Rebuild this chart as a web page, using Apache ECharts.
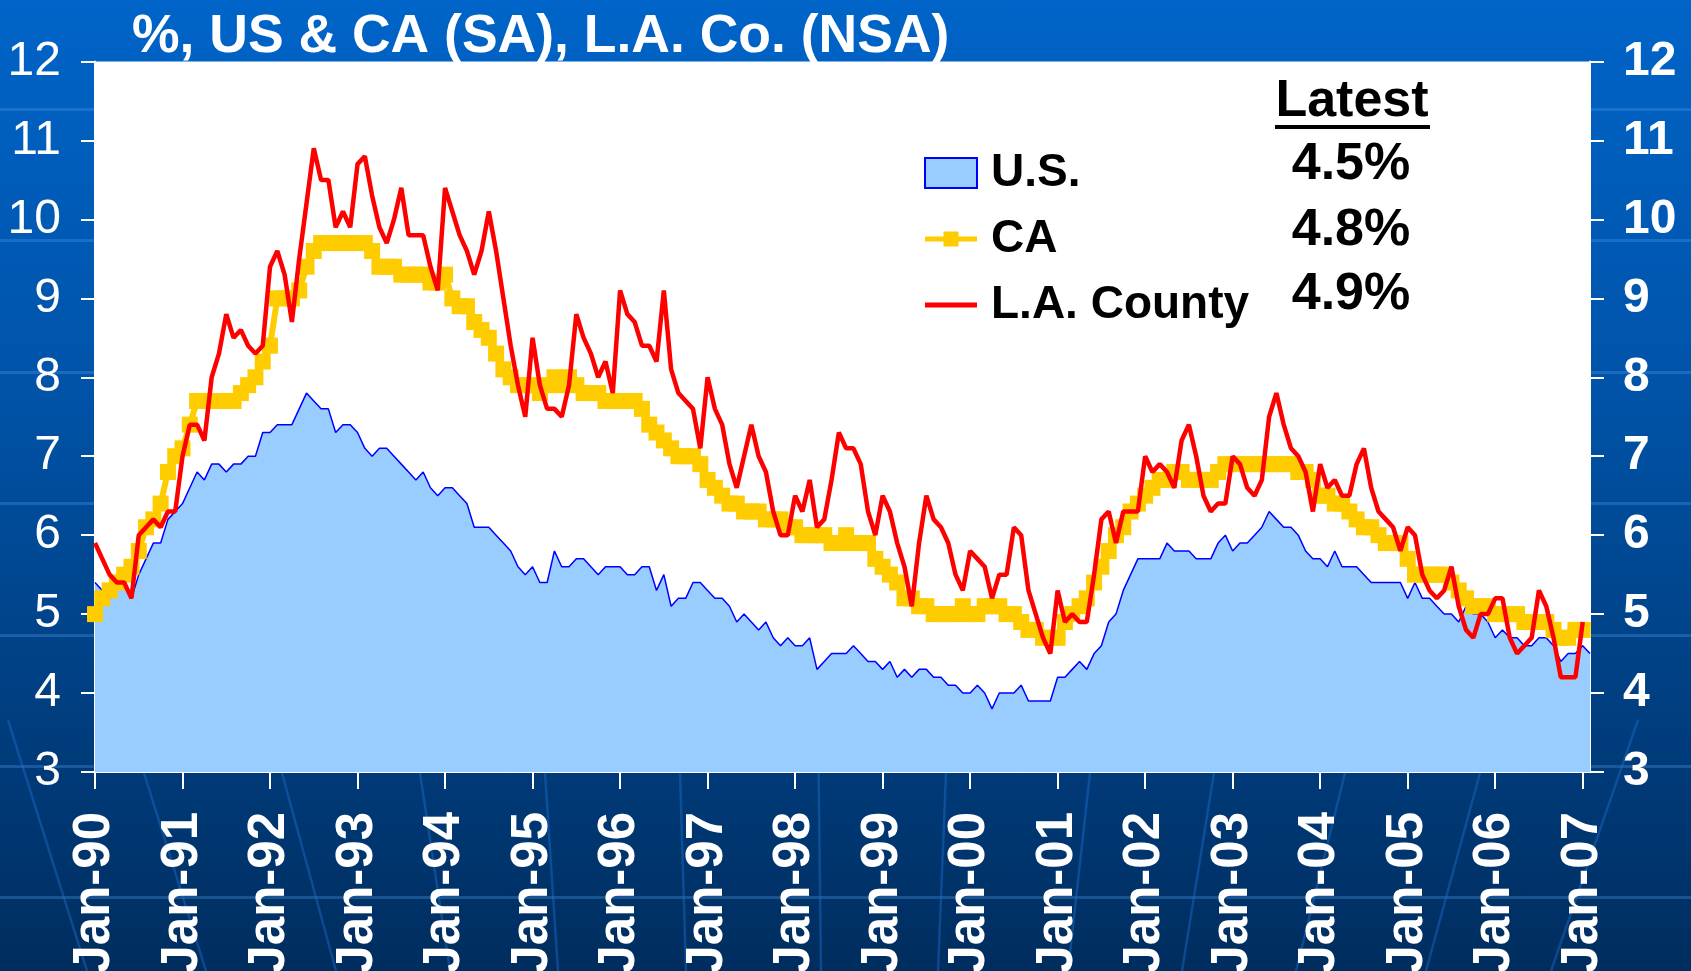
<!DOCTYPE html>
<html>
<head>
<meta charset="utf-8">
<title>Unemployment rate: U.S., CA, L.A. County</title>
<script src="https://cdn.jsdelivr.net/npm/echarts@6/dist/echarts.min.js"></script>
<style>
  html, body { margin: 0; padding: 0; }
  body {
    width: 1691px;
    height: 971px;
    overflow: hidden;
    background:
      url("data:image/svg+xml,%3Csvg xmlns='http://www.w3.org/2000/svg' width='1691' height='971'%3E%3Cg stroke='rgba(30,115,215,0.4)' stroke-width='2.5' fill='none'%3E%3Cpath d='M8,720L87,971M144,773L206,971M282,773L336,971M420,773L450,971M545,773L558,971M680,773L686,971M818,720L821,971M946,773L938,971M1090,773L1068,971M1214,773L1182,971M1345,773L1296,971M1480,773L1426,971M1638,720L1551,971'/%3E%3C/g%3E%3C/svg%3E") no-repeat 0 0,
      repeating-linear-gradient(180deg, transparent 0px, transparent 108px, rgba(80,160,240,0.30) 108px, rgba(80,160,240,0.30) 111px, transparent 111px, transparent 131.4px),
      linear-gradient(180deg, #0064c8 0%, #0053a8 40%, #003d7e 75%, #002d5e 100%);
  }
  #chart { width: 1691px; height: 971px; }
</style>
</head>
<body>
<div id="chart"></div>
<script>
const FONT = "'Liberation Sans', Arial, Helvetica, sans-serif";

const years = ['90', '91', '92', '93', '94', '95', '96', '97', '98', '99',
  '00', '01', '02', '03', '04', '05', '06', '07'];
const monthNames = ['Jan', 'Feb', 'Mar', 'Apr', 'May', 'Jun', 'Jul', 'Aug', 'Sep', 'Oct', 'Nov', 'Dec'];

// U.S. unemployment rate, seasonally adjusted (Jan-90 .. Feb-07)
const usRate = [
  5.4, 5.3, 5.2, 5.4, 5.4, 5.2, 5.5, 5.7, 5.9, 5.9, 6.2, 6.3,
  6.4, 6.6, 6.8, 6.7, 6.9, 6.9, 6.8, 6.9, 6.9, 7.0, 7.0, 7.3,
  7.3, 7.4, 7.4, 7.4, 7.6, 7.8, 7.7, 7.6, 7.6, 7.3, 7.4, 7.4,
  7.3, 7.1, 7.0, 7.1, 7.1, 7.0, 6.9, 6.8, 6.7, 6.8, 6.6, 6.5,
  6.6, 6.6, 6.5, 6.4, 6.1, 6.1, 6.1, 6.0, 5.9, 5.8, 5.6, 5.5,
  5.6, 5.4, 5.4, 5.8, 5.6, 5.6, 5.7, 5.7, 5.6, 5.5, 5.6, 5.6,
  5.6, 5.5, 5.5, 5.6, 5.6, 5.3, 5.5, 5.1, 5.2, 5.2, 5.4, 5.4,
  5.3, 5.2, 5.2, 5.1, 4.9, 5.0, 4.9, 4.8, 4.9, 4.7, 4.6, 4.7,
  4.6, 4.6, 4.7, 4.3, 4.4, 4.5, 4.5, 4.5, 4.6, 4.5, 4.4, 4.4,
  4.3, 4.4, 4.2, 4.3, 4.2, 4.3, 4.3, 4.2, 4.2, 4.1, 4.1, 4.0,
  4.0, 4.1, 4.0, 3.8, 4.0, 4.0, 4.0, 4.1, 3.9, 3.9, 3.9, 3.9,
  4.2, 4.2, 4.3, 4.4, 4.3, 4.5, 4.6, 4.9, 5.0, 5.3, 5.5, 5.7,
  5.7, 5.7, 5.7, 5.9, 5.8, 5.8, 5.8, 5.7, 5.7, 5.7, 5.9, 6.0,
  5.8, 5.9, 5.9, 6.0, 6.1, 6.3, 6.2, 6.1, 6.1, 6.0, 5.8, 5.7,
  5.7, 5.6, 5.8, 5.6, 5.6, 5.6, 5.5, 5.4, 5.4, 5.4, 5.4, 5.4,
  5.2, 5.4, 5.2, 5.2, 5.1, 5.0, 5.0, 4.9, 5.1, 5.0, 5.0, 4.9,
  4.7, 4.8, 4.7, 4.7, 4.6, 4.6, 4.7, 4.7, 4.6, 4.4, 4.5, 4.5,
  4.6, 4.5
];

// California, seasonally adjusted (Jan-90 .. Jan-07)
const caRate = [
  5.0, 5.2, 5.3, 5.4, 5.5, 5.6, 5.8, 6.1, 6.2, 6.4, 6.8, 7.0,
  7.1, 7.4, 7.7, 7.7, 7.7, 7.7, 7.7, 7.7, 7.8, 7.9, 8.0, 8.2,
  8.4, 9.0, 9.0, 9.0, 9.1, 9.4, 9.6, 9.7, 9.7, 9.7, 9.7, 9.7,
  9.7, 9.7, 9.6, 9.4, 9.4, 9.4, 9.3, 9.3, 9.3, 9.3, 9.2, 9.2,
  9.3, 9.0, 8.9, 8.9, 8.7, 8.6, 8.5, 8.3, 8.1, 8.0, 7.9, 7.9,
  7.9, 7.8, 7.9, 8.0, 7.9, 8.0, 7.9, 7.8, 7.8, 7.8, 7.7, 7.7,
  7.7, 7.7, 7.7, 7.6, 7.4, 7.3, 7.2, 7.1, 7.0, 7.0, 7.0, 6.9,
  6.7, 6.6, 6.5, 6.4, 6.4, 6.3, 6.3, 6.3, 6.2, 6.2, 6.2, 6.1,
  6.1, 6.0, 6.0, 6.0, 6.0, 5.9, 5.9, 6.0, 5.9, 5.9, 5.9, 5.7,
  5.6, 5.5, 5.4, 5.2, 5.2, 5.1, 5.1, 5.0, 5.0, 5.0, 5.0, 5.1,
  5.0, 5.0, 5.1, 5.1, 5.1, 5.0, 5.0, 4.9, 4.8, 4.8, 4.7, 4.7,
  4.7, 4.9, 5.0, 5.1, 5.2, 5.4, 5.6, 5.8, 6.0, 6.1, 6.3, 6.4,
  6.5, 6.6, 6.7, 6.7, 6.8, 6.8, 6.7, 6.7, 6.7, 6.7, 6.8, 6.9,
  6.9, 6.9, 6.9, 6.9, 6.9, 6.9, 6.9, 6.9, 6.9, 6.8, 6.8, 6.7,
  6.5, 6.5, 6.4, 6.4, 6.3, 6.2, 6.1, 6.1, 6.0, 5.9, 5.9, 5.9,
  5.7, 5.5, 5.5, 5.5, 5.5, 5.5, 5.4, 5.3, 5.2, 5.1, 5.1, 5.1,
  5.0, 5.0, 5.0, 5.0, 4.9, 4.9, 4.9, 4.9, 4.8, 4.7, 4.7, 4.8,
  4.8
];

// Los Angeles County, not seasonally adjusted (Jan-90 .. Jan-07)
const laRate = [
  5.9, 5.7, 5.5, 5.4, 5.4, 5.2, 6.0, 6.1, 6.2, 6.1, 6.3, 6.3,
  7.0, 7.4, 7.4, 7.2, 8.0, 8.3, 8.8, 8.5, 8.6, 8.4, 8.3, 8.4,
  9.4, 9.6, 9.3, 8.7, 9.5, 10.2, 10.9, 10.5, 10.5, 9.9, 10.1, 9.9,
  10.7, 10.8, 10.3, 9.9, 9.7, 10.0, 10.4, 9.8, 9.8, 9.8, 9.4, 9.1,
  10.4, 10.1, 9.8, 9.6, 9.3, 9.6, 10.1, 9.6, 9.0, 8.4, 7.9, 7.5,
  8.5, 7.9, 7.6, 7.6, 7.5, 7.9, 8.8, 8.5, 8.3, 8.0, 8.2, 7.8,
  9.1, 8.8, 8.7, 8.4, 8.4, 8.2, 9.1, 8.1, 7.8, 7.7, 7.6, 7.1,
  8.0, 7.6, 7.4, 6.9, 6.6, 7.0, 7.4, 7.0, 6.8, 6.3, 6.0, 6.0,
  6.5, 6.3, 6.7, 6.1, 6.2, 6.7, 7.3, 7.1, 7.1, 6.9, 6.3, 6.0,
  6.5, 6.3, 5.9, 5.6, 5.1, 5.9, 6.5, 6.2, 6.1, 5.9, 5.5, 5.3,
  5.8, 5.7, 5.6, 5.2, 5.5, 5.5, 6.1, 6.0, 5.3, 5.0, 4.7, 4.5,
  5.3, 4.9, 5.0, 4.9, 4.9, 5.5, 6.2, 6.3, 5.9, 6.3, 6.3, 6.3,
  7.0, 6.8, 6.9, 6.8, 6.6, 7.2, 7.4, 7.0, 6.5, 6.3, 6.4, 6.4,
  7.0, 6.9, 6.6, 6.5, 6.7, 7.5, 7.8, 7.4, 7.1, 7.0, 6.8, 6.3,
  6.9, 6.6, 6.7, 6.5, 6.5, 6.9, 7.1, 6.6, 6.3, 6.2, 6.1, 5.8,
  6.1, 6.0, 5.5, 5.3, 5.2, 5.3, 5.6, 5.1, 4.8, 4.7, 5.0, 5.0,
  5.2, 5.2, 4.7, 4.5, 4.6, 4.7, 5.3, 5.1, 4.7, 4.2, 4.2, 4.2,
  4.9
];

const yTicks = { min: 3, max: 12, step: 1 };

// month labels "Jan-90" ... as many as the longest series
const months = [];
years.forEach(y => monthNames.forEach(m => {
  if (months.length < usRate.length) months.push(m + '-' + y);
}));

const latest = [usRate, caRate, laRate].map(a => a[a.length - 1].toFixed(1) + '%');

// legend icons sized 52 x 30 (tiny corner triangles fix the box)
const caIcon = 'path://M0,0L0.01,0L0,0.01Z M0,12.5L52,12.5L52,17.5L0,17.5Z M18.5,7.5L33.5,7.5L33.5,22.5L18.5,22.5Z M52,30L51.99,30L52,29.99Z';
const laIcon = 'path://M0,0L0.01,0L0,0.01Z M0,12.5L52,12.5L52,17.5L0,17.5Z M52,30L51.99,30L52,29.99Z';

const chart = echarts.init(document.getElementById('chart'));

const yAxisBase = {
  type: 'value',
  min: yTicks.min,
  max: yTicks.max,
  interval: yTicks.step,
  axisLine: { show: true, lineStyle: { color: '#ffffff', width: 2 } },
  axisTick: { show: true, length: 14, lineStyle: { color: '#ffffff', width: 2 } },
  splitLine: { show: false }
};

const option = {
  animation: false,
  backgroundColor: 'transparent',
  title: {
    text: '%, US & CA (SA), L.A. Co. (NSA)',
    left: 127,
    top: 5,
    textStyle: { color: '#ffffff', fontFamily: FONT, fontWeight: 'bold', fontSize: 53.5 }
  },
  grid: {
    left: 95, right: 101, top: 61.5, bottom: 199,
    outerBoundsMode: 'none',
    show: true, backgroundColor: '#ffffff', borderWidth: 0
  },
  legend: {
    orient: 'vertical',
    left: 919,
    top: 145,
    itemWidth: 52,
    itemHeight: 30,
    itemGap: 20,
    selectedMode: false,
    textStyle: { color: '#000000', fontFamily: FONT, fontWeight: 'bold', fontSize: 46, padding: [0, 0, 0, 9] },
    data: [
      { name: 'U.S.', icon: 'rect', itemStyle: { color: '#99ccff', borderColor: '#0000ff', borderWidth: 2 } },
      { name: 'CA', icon: caIcon, itemStyle: { color: '#ffcc00', borderWidth: 0 } },
      { name: 'L.A. County', icon: laIcon, itemStyle: { color: '#ff0000', borderWidth: 0 } }
    ]
  },
  xAxis: {
    type: 'category',
    data: months,
    boundaryGap: false,
    axisLine: { lineStyle: { color: '#ffffff', width: 2 } },
    axisTick: { interval: 11, length: 17, lineStyle: { color: '#ffffff', width: 2 } },
    axisLabel: {
      interval: 11, rotate: 90, margin: 40,
      color: '#ffffff', fontFamily: FONT, fontWeight: 'bold', fontSize: 51
    },
    splitLine: { show: false }
  },
  yAxis: [
    Object.assign({}, yAxisBase, {
      position: 'left',
      axisLabel: { margin: 34, color: '#ffffff', fontFamily: FONT, fontSize: 48 }
    }),
    Object.assign({}, yAxisBase, {
      position: 'right',
      axisLabel: { margin: 33, color: '#ffffff', fontFamily: FONT, fontWeight: 'bold', fontSize: 48 }
    })
  ],
  graphic: [
    {
      type: 'text', x: 1352, y: 102,
      style: { text: 'Latest', fill: '#000000', font: 'bold 52px ' + FONT, align: 'center', verticalAlign: 'middle' }
    },
    {
      type: 'line',
      shape: { x1: 1275, y1: 127, x2: 1430, y2: 127 },
      style: { stroke: '#000000', lineWidth: 4 }
    }
  ].concat(latest.map((t, i) => ({
    type: 'text', x: 1351, y: [165, 231, 295][i],
    style: { text: t, fill: '#000000', font: 'bold 52px ' + FONT, align: 'center', verticalAlign: 'middle' }
  }))),
  series: [
    {
      name: 'U.S.',
      type: 'line',
      data: usRate,
      symbol: 'none',
      lineStyle: { color: '#0000ff', width: 1.5 },
      itemStyle: { color: '#99ccff' },
      areaStyle: { color: '#99ccff', opacity: 1, origin: 'start' },
      z: 1
    },
    {
      name: 'CA',
      type: 'line',
      data: caRate,
      symbol: 'rect',
      symbolSize: 16,
      showAllSymbol: true,
      clip: false,
      itemStyle: { color: '#ffcc00' },
      lineStyle: { color: '#ffcc00', width: 6 },
      z: 2
    },
    {
      name: 'L.A. County',
      type: 'line',
      data: laRate,
      symbol: 'none',
      lineStyle: { color: '#ff0000', width: 4.5 },
      itemStyle: { color: '#ff0000' },
      z: 3
    }
  ]
};

chart.setOption(option);
</script>
</body>
</html>
